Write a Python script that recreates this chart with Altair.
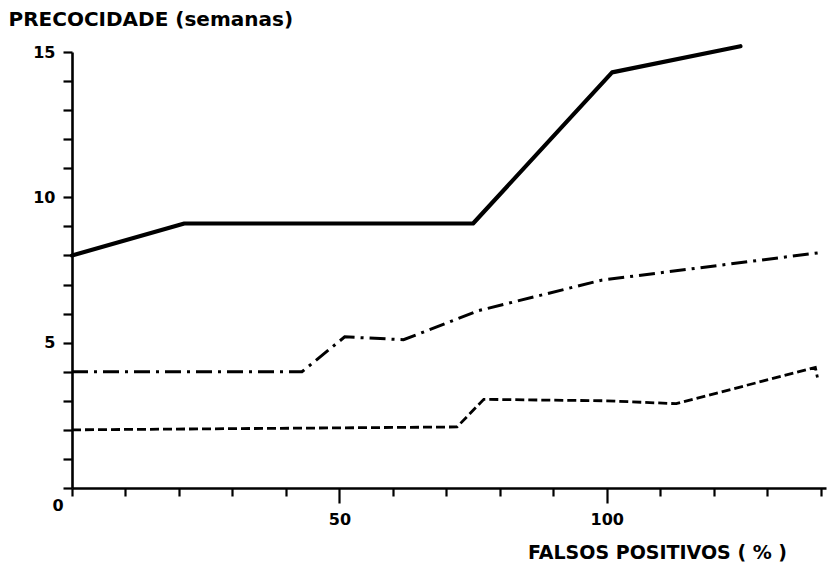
import altair as alt
import pandas as pd

# --- data ---
solid_x = [0, 21, 75, 101, 125]
solid_y = [8.0, 9.1, 9.1, 14.3, 15.2]

dashdot_x = [0, 43, 51, 62, 76, 99, 140]
dashdot_y = [4.0, 4.0, 5.2, 5.1, 6.1, 7.15, 8.1]

dashed_x = [0, 72, 77, 100, 113, 139, 139.4]
dashed_y = [2.0, 2.1, 3.05, 3.0, 2.9, 4.15, 3.8]

x_ticks = list(range(0, 141, 10))
y_ticks = list(range(0, 16))

FONT = "DejaVu Sans"

def frame(xs, ys, name):
    return pd.DataFrame({"x": xs, "y": ys, "serie": name, "ordem": list(range(len(xs)))})

df_solid = frame(solid_x, solid_y, "a")
df_dd = frame(dashdot_x, dashdot_y, "b")
df_dash = frame(dashed_x, dashed_y, "c")

xscale = alt.Scale(domain=[0, 141], nice=False, zero=True)
yscale = alt.Scale(domain=[0, 15], nice=False)

xaxis = alt.Axis(
    values=x_ticks,
    labelExpr="(datum.value == 50 || datum.value == 100) ? datum.label : ''",
    labelOverlap=False,
    title="FALSOS  POSITIVOS ( % )",
    titleX=585, titleY=70, titleAlign="center", titleBaseline="alphabetic",
    titleFont=FONT, titleFontSize=19, titleFontWeight="bold", titleColor="black",
    labelFont=FONT, labelFontSize=16, labelFontWeight="bold", labelColor="black",
    labelPadding=8,
    tickSize={"condition": {"test": "datum.value == 50 || datum.value == 100", "value": 15}, "value": 8},
    tickWidth=2.2, tickColor="black",
    domainWidth=2.6, domainColor="black",
    grid=False,
)

yaxis = alt.Axis(
    values=y_ticks,
    labelExpr="(datum.value == 5 || datum.value == 10 || datum.value == 15) ? datum.label : ''",
    labelOverlap=False,
    title="PRECOCIDADE (semanas)",
    titleAngle=0, titleX=-64, titleY=-27, titleAlign="left", titleBaseline="alphabetic",
    titleFont=FONT, titleFontSize=20, titleFontWeight="bold", titleColor="black",
    labelFont=FONT, labelFontSize=16, labelFontWeight="bold", labelColor="black",
    labelPadding=8,
    tickSize=9, tickWidth=2.2, tickColor="black",
    domainWidth=2.6, domainColor="black",
    grid=False,
)

X = alt.X("x:Q", scale=xscale, axis=xaxis)
Y = alt.Y("y:Q", scale=yscale, axis=yaxis)

solid = alt.Chart(df_solid).mark_line(color="black", strokeWidth=4.2, strokeCap="round", strokeJoin="round").encode(
    x=X, y=Y, order="ordem:Q"
)
dashdot = alt.Chart(df_dd).mark_line(color="black", strokeWidth=3, strokeDash=[16, 6, 3, 6]).encode(
    x=X, y=Y, order="ordem:Q"
)
dashed = alt.Chart(df_dash).mark_line(color="black", strokeWidth=2.8, strokeDash=[9, 4]).encode(
    x=X, y=Y, order="ordem:Q"
)

zero_df = pd.DataFrame({"x": [0], "y": [0], "t": ["0"]})
zero = alt.Chart(zero_df).mark_text(
    font=FONT, fontSize=16, fontWeight="bold", color="black", dx=-14, dy=18
).encode(x=X, y=Y, text="t:N")

chart = alt.layer(solid, dashdot, dashed, zero).properties(
    width=754, height=436,
    autosize=alt.AutoSizeParams(type="none"),
    padding={"left": 72, "top": 52, "right": 2, "bottom": 77},
    background="white",
).configure_view(stroke=None).configure_axis(labelOverlap=False)

chart.save("out.html", embed_options={"renderer": "svg", "actions": False})
